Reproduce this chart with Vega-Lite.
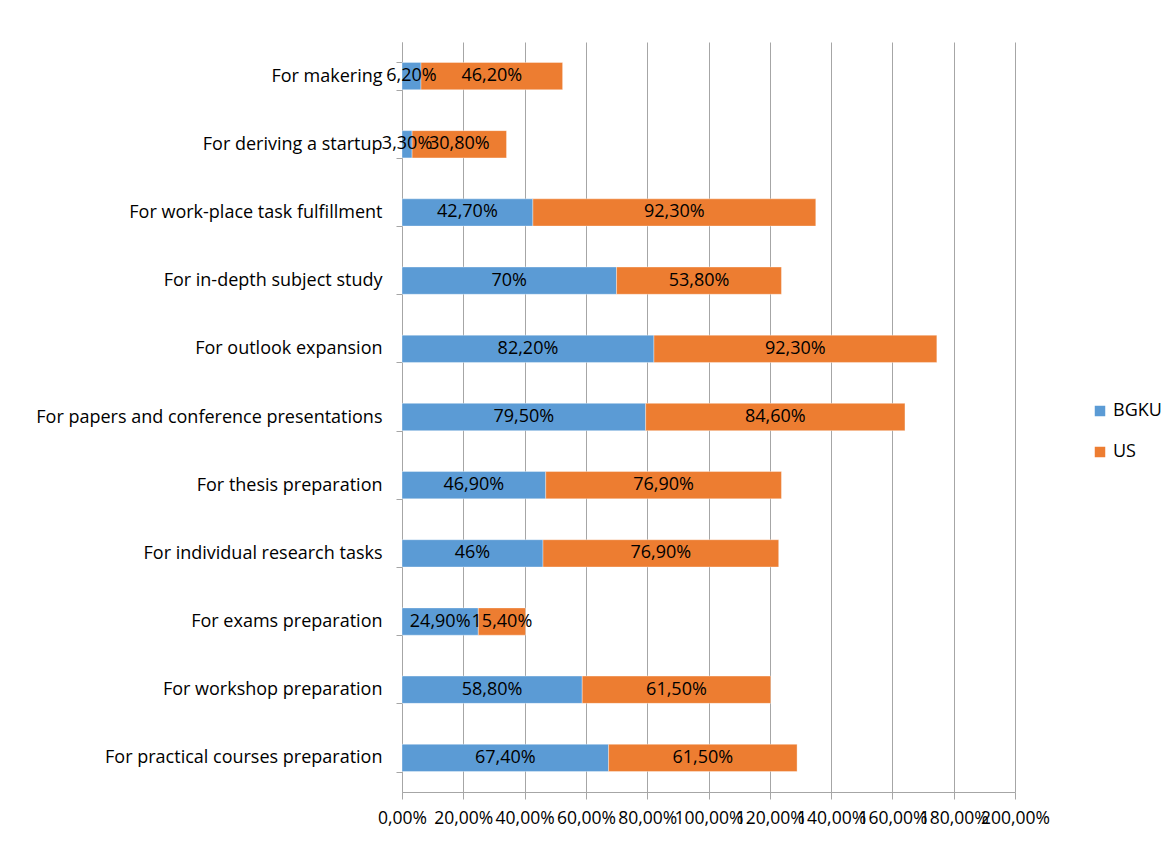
{
  "$schema": "https://vega.github.io/schema/vega-lite/v6.json",
  "width": 613,
  "height": 750,
  "autosize": {"type": "none"},
  "padding": {"left": 402, "top": 42, "right": 159, "bottom": 51},
  "background": "#ffffff",
  "data": {"values": [
    {"category": "For makering", "series": "BGKU", "value": 6.2, "label": "6,20%"},
    {"category": "For makering", "series": "US", "value": 46.2, "label": "46,20%"},
    {"category": "For deriving a startup", "series": "BGKU", "value": 3.3, "label": "3,30%"},
    {"category": "For deriving a startup", "series": "US", "value": 30.8, "label": "30,80%"},
    {"category": "For work-place task fulfillment", "series": "BGKU", "value": 42.7, "label": "42,70%"},
    {"category": "For work-place task fulfillment", "series": "US", "value": 92.3, "label": "92,30%"},
    {"category": "For in-depth subject study", "series": "BGKU", "value": 70, "label": "70%"},
    {"category": "For in-depth subject study", "series": "US", "value": 53.8, "label": "53,80%"},
    {"category": "For outlook expansion", "series": "BGKU", "value": 82.2, "label": "82,20%"},
    {"category": "For outlook expansion", "series": "US", "value": 92.3, "label": "92,30%"},
    {"category": "For papers and conference presentations", "series": "BGKU", "value": 79.5, "label": "79,50%"},
    {"category": "For papers and conference presentations", "series": "US", "value": 84.6, "label": "84,60%"},
    {"category": "For thesis preparation", "series": "BGKU", "value": 46.9, "label": "46,90%"},
    {"category": "For thesis preparation", "series": "US", "value": 76.9, "label": "76,90%"},
    {"category": "For individual research tasks\u00a0", "series": "BGKU", "value": 46, "label": "46%"},
    {"category": "For individual research tasks\u00a0", "series": "US", "value": 76.9, "label": "76,90%"},
    {"category": "For exams preparation", "series": "BGKU", "value": 24.9, "label": "24,90%"},
    {"category": "For exams preparation", "series": "US", "value": 15.4, "label": "15,40%"},
    {"category": "For workshop preparation", "series": "BGKU", "value": 58.8, "label": "58,80%"},
    {"category": "For workshop preparation", "series": "US", "value": 61.5, "label": "61,50%"},
    {"category": "For practical courses preparation", "series": "BGKU", "value": 67.4, "label": "67,40%"},
    {"category": "For practical courses preparation", "series": "US", "value": 61.5, "label": "61,50%"}
  ]},
  "transform": [
    {"stack": "value", "groupby": ["category"], "sort": [{"field": "series", "order": "ascending"}], "as": ["v0", "v1"]},
    {"calculate": "(datum.v0 + datum.v1) / 2", "as": "mid"}
  ],
  "encoding": {
    "y": {
      "field": "category",
      "type": "nominal",
      "sort": null,
      "scale": {"paddingInner": 0.6, "paddingOuter": 0.3},
      "axis": {
        "title": null,
        "tickBand": "extent",
        "domainColor": "#a6a6a6",
        "tickColor": "#a6a6a6",
        "tickSize": 6,
        "labelPadding": 14,
        "labelFont": "Open Sans",
        "labelFontSize": 18,
        "labelColor": "#000000",
        "labelLimit": 500,
        "grid": false
      }
    }
  },
  "layer": [
    {
      "mark": {"type": "bar", "stroke": "#ffffff", "strokeWidth": 0.6, "strokeOpacity": 0.6},
      "encoding": {
        "x": {
          "field": "v0",
          "type": "quantitative",
          "scale": {"domain": [0, 200], "nice": false, "zero": true},
          "axis": {
            "title": null,
            "values": [0, 20, 40, 60, 80, 100, 120, 140, 160, 180, 200],
            "labelExpr": "replace(format(datum.value, '.2f'), '.', ',') + '%'",
            "grid": true,
            "gridColor": "#a6a6a6",
            "gridWidth": 1,
            "domainColor": "#a6a6a6",
            "tickColor": "#a6a6a6",
            "tickSize": 7,
            "labelFont": "Open Sans",
            "labelFontSize": 17.5,
            "labelColor": "#000000",
            "labelPadding": 10,
            "labelOverlap": false,
            "labelFlush": false
          }
        },
        "x2": {"field": "v1"},
        "color": {
          "field": "series",
          "type": "nominal",
          "scale": {"domain": ["BGKU", "US"], "range": ["#5b9bd5", "#ed7d31"]},
          "legend": {
            "title": null,
            "orient": "none",
            "legendX": 689,
            "legendY": 360,
            "symbolType": "square",
            "symbolSize": 110,
            "symbolStrokeWidth": 0,
            "labelFont": "Open Sans",
            "labelFontSize": 18,
            "labelColor": "#000000",
            "labelOffset": 4,
            "rowPadding": 23
          }
        }
      }
    },
    {
      "mark": {"type": "text", "font": "Open Sans", "fontSize": 18, "color": "#000000", "align": "center", "baseline": "middle"},
      "encoding": {
        "x": {"field": "mid", "type": "quantitative"},
        "text": {"field": "label"}
      }
    }
  ],
  "config": {
    "view": {"stroke": null}
  }
}
